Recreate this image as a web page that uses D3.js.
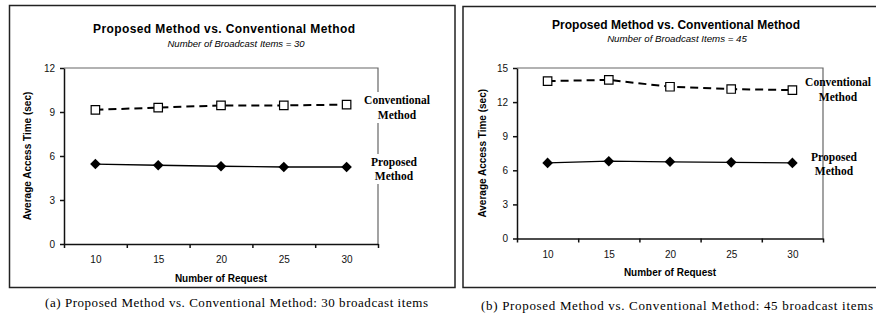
<!DOCTYPE html>
<html>
<head>
<meta charset="utf-8">
<script src="https://cdn.jsdelivr.net/npm/d3@7"></script>
<style>
    body { margin: 0; background: #fff; }
    svg { display: block; }
</style>
</head>
<body>
<div id="chart"></div>
<script>
// values
const requests = [10, 15, 20, 25, 30];
const conventional30 = [9.15, 9.3, 9.45, 9.45, 9.5];
const proposed30 = [5.45, 5.37, 5.3, 5.25, 5.25];
const conventional45 = [13.85, 13.95, 13.35, 13.15, 13.05];
const proposed45 = [6.65, 6.8, 6.75, 6.7, 6.65];
const yTicks30 = [0, 3, 6, 9, 12];
const yTicks45 = [0, 3, 6, 9, 12, 15];

const sans = 'Arial, "Liberation Sans", sans-serif';
const serif = '"Times New Roman", "Liberation Serif", serif';

const svg = d3.select('#chart')
    .append('svg')
    .attr('width', 876)
    .attr('height', 315);

const drawPanel = (props) => {
    const {
        frame, plot, title, subtitle, caption,
        conventional, proposed, yTicks,
        titleX, titleY, titleSize, titleLen, subX, subY, subSize,
        xLabelPad, xTitleY, yTitleX, captionX, captionY, captionLen,
        convLabel, propLabel, labelBg
    } = props;

    const g = svg.append('g');

    // outer frame
    g.append('rect')
        .attr('x', frame.x).attr('y', frame.y)
        .attr('width', frame.w).attr('height', frame.h)
        .style('fill', 'none')
        .style('stroke', '#222')
        .style('stroke-width', 1.5);

    const xScale = d3.scaleLinear()
        .domain([7.5, 32.5])
        .range([plot.l, plot.r]);

    const yScale = d3.scaleLinear()
        .domain([0, d3.max(yTicks)])
        .range([plot.b, plot.t]);

    // top and right plot border
    g.append('path')
        .attr('d', `M${plot.l},${plot.t}H${plot.r}V${plot.b}`)
        .style('fill', 'none')
        .style('stroke', '#666')
        .style('stroke-width', 1.2);

    const yAxis = g.append('g')
        .attr('transform', `translate(${plot.l},0)`)
        .call(d3.axisLeft(yScale).tickValues(yTicks).tickSize(4).tickPadding(5).tickSizeOuter(0));

    const boundaries = requests.map(d => d - 2.5).concat([32.5]);
    const xTicks = g.append('g')
        .attr('transform', `translate(0,${plot.b})`)
        .call(d3.axisBottom(xScale).tickValues(boundaries).tickSize(4).tickFormat('').tickSizeOuter(0));

    const xLabels = g.append('g')
        .attr('transform', `translate(0,${plot.b})`)
        .call(d3.axisBottom(xScale).tickValues(requests).tickSize(0).tickPadding(xLabelPad));
    xLabels.select('.domain').remove();

    [yAxis, xTicks, xLabels].forEach(a => {
        a.selectAll('.domain, line').style('stroke', '#111').style('stroke-width', 1.5);
        a.selectAll('text').style('font-family', sans).style('font-size', '10px').style('fill', '#111');
    });

    // titles
    g.append('text')
        .attr('x', titleX).attr('y', titleY)
        .attr('text-anchor', 'middle')
        .attr('textLength', titleLen).attr('lengthAdjust', 'spacing')
        .style('font-family', sans).style('font-weight', 'bold').style('font-size', titleSize + 'px')
        .text(title);

    g.append('text')
        .attr('x', subX).attr('y', subY)
        .attr('text-anchor', 'middle')
        .style('font-family', sans).style('font-style', 'italic').style('font-size', subSize + 'px')
        .text(subtitle);

    g.append('text')
        .attr('x', (plot.l + plot.r) / 2).attr('y', xTitleY)
        .attr('text-anchor', 'middle')
        .style('font-family', sans).style('font-weight', 'bold').style('font-size', '10px')
        .text('Number of Request');

    g.append('text')
        .attr('transform', `translate(${yTitleX},${(plot.t + plot.b) / 2}) rotate(-90)`)
        .attr('text-anchor', 'middle')
        .style('font-family', sans).style('font-weight', 'bold').style('font-size', '10px')
        .text('Average Access Time (sec)');

    // lines
    const line = values => d3.line()
        .x((d, i) => xScale(requests[i]))
        .y(d => yScale(d))(values);

    g.append('path')
        .attr('d', line(conventional))
        .style('fill', 'none')
        .style('stroke', '#000')
        .style('stroke-width', 2)
        .style('stroke-dasharray', '8,5');

    g.append('path')
        .attr('d', line(proposed))
        .style('fill', 'none')
        .style('stroke', '#000')
        .style('stroke-width', 1.3);

    g.selectAll('.square')
        .data(conventional)
        .enter()
        .append('path')
        .attr('class', 'square')
        .attr('d', d3.symbol(d3.symbolSquare, 72))
        .attr('transform', (d, i) => `translate(${xScale(requests[i])},${yScale(d)})`)
        .style('fill', '#fff')
        .style('stroke', '#000')
        .style('stroke-width', 1.2);

    g.selectAll('.diamond')
        .data(proposed)
        .enter()
        .append('path')
        .attr('class', 'diamond')
        .attr('d', d3.symbol(d3.symbolSquare, 56))
        .attr('transform', (d, i) => `translate(${xScale(requests[i])},${yScale(d)}) rotate(45)`)
        .style('fill', '#000');

    // series labels
    [convLabel, propLabel].forEach(lab => {
        const lg = g.append('g');
        const t = lg.append('text')
            .attr('text-anchor', 'middle')
            .style('font-family', serif).style('font-weight', 'bold').style('font-size', '11.5px');
        lab.lines.forEach((s, i) => {
            t.append('tspan')
                .attr('x', lab.x)
                .attr('y', lab.y + i * lab.gap)
                .text(s);
        });
        if (labelBg) {
            const bb = t.node().getBBox();
            lg.insert('rect', 'text')
                .attr('x', bb.x - 2).attr('y', bb.y - 2)
                .attr('width', bb.width + 4).attr('height', bb.height + 4)
                .style('fill', '#fff');
        }
    });

    // caption
    g.append('text')
        .attr('x', captionX).attr('y', captionY)
        .attr('textLength', captionLen).attr('lengthAdjust', 'spacing')
        .style('font-family', serif).style('font-size', '13px')
        .text(caption);
};

drawPanel({
    frame: { x: 9.5, y: 5.5, w: 445.5, h: 282 },
    plot: { l: 64, t: 68, r: 378, b: 244 },
    title: 'Proposed Method vs. Conventional Method',
    subtitle: 'Number of Broadcast Items = 30',
    caption: '(a) Proposed Method vs. Conventional Method: 30 broadcast items',
    conventional: conventional30,
    proposed: proposed30,
    yTicks: yTicks30,
    titleX: 224, titleY: 33, titleSize: 12, titleLen: 262,
    subX: 236, subY: 46.5, subSize: 9.5,
    xLabelPad: 12, xTitleY: 282, yTitleX: 31,
    captionX: 45, captionY: 307, captionLen: 383,
    convLabel: { x: 397, y: 104, gap: 15, lines: ['Conventional', 'Method'] },
    propLabel: { x: 394, y: 166, gap: 14, lines: ['Proposed', 'Method'] },
    labelBg: true
});

drawPanel({
    frame: { x: 463, y: 6.5, w: 430, h: 281 },
    plot: { l: 517, t: 68, r: 823, b: 238.5 },
    title: 'Proposed Method vs. Conventional Method',
    subtitle: 'Number of Broadcast Items = 45',
    caption: '(b) Proposed Method vs. Conventional Method: 45 broadcast items',
    conventional: conventional45,
    proposed: proposed45,
    yTicks: yTicks45,
    titleX: 676, titleY: 28.5, titleSize: 12, titleLen: 248,
    subX: 677, subY: 41.5, subSize: 9.7,
    xLabelPad: 12, xTitleY: 276, yTitleX: 486,
    captionX: 481, captionY: 310, captionLen: 392,
    convLabel: { x: 838, y: 86, gap: 15, lines: ['Conventional', 'Method'] },
    propLabel: { x: 834, y: 161, gap: 14, lines: ['Proposed', 'Method'] },
    labelBg: false
});
</script>
</body>
</html>
